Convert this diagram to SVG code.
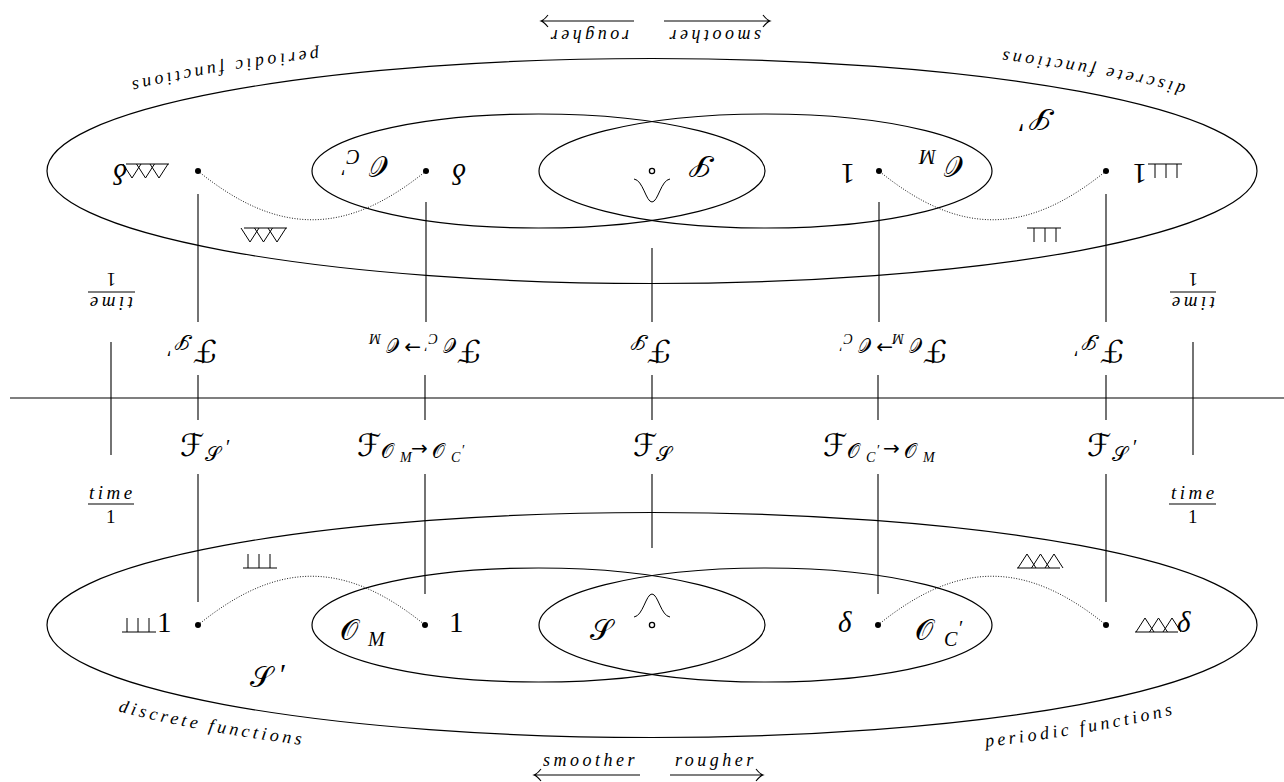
<svg xmlns="http://www.w3.org/2000/svg" xmlns:xlink="http://www.w3.org/1999/xlink" width="1284" height="782" viewBox="0 0 1284 782">
<style>
.ln{stroke:#000;stroke-width:1.1;fill:none}
.el{stroke:#000;stroke-width:1.2;fill:none}
.dt{stroke:#000;stroke-width:0.9;fill:none;stroke-dasharray:1 1.6}
.sym{stroke:#000;stroke-width:1;fill:none}
.dot{fill:#000}
.odot{fill:#fff;stroke:#000;stroke-width:1.3}
text{fill:#000}
.rm{font-family:"Liberation Serif","DejaVu Serif",serif}
.cal{font-family:"DejaVu Sans","DejaVu Serif","Noto Sans",serif}
.it{font-family:"Liberation Serif","DejaVu Serif",serif;font-style:italic}
.big{font-size:29px}
.fb{font-size:31px}
.sub{font-size:20px}
.ss{font-size:14px}
.lbl{font-family:"Liberation Serif","DejaVu Serif",serif;font-style:italic;font-size:18px;letter-spacing:3.5px}
.tm{font-family:"Liberation Serif","DejaVu Serif",serif;font-style:italic;font-size:19px;letter-spacing:3.5px}
</style>
<defs>
<path id="arc" d="M-26,625 A678,140 0 0 0 1330,625"/>
<path id="shah" class="sym" d="M0,14 H34 M5,14 V0 M16,14 V0 M27,14 V0"/>
<path id="tri" class="sym" d="M0,14 H43 M1,14 L10,0 L19,14 M14.5,14 L23.5,0 L32.5,14 M28,14 L37,0 L46,14"/>
</defs>

<g id="connectors">
  <line class="ln" x1="10" y1="398" x2="1294" y2="398"/>
  <line class="ln" x1="111" y1="342" x2="111" y2="455"/>
  <line class="ln" x1="1193" y1="342" x2="1193" y2="455"/>
  <line class="ln" x1="198" y1="375" x2="198" y2="420"/>
  <line class="ln" x1="425" y1="375" x2="425" y2="420"/>
  <line class="ln" x1="652" y1="375" x2="652" y2="420"/>
  <line class="ln" x1="878" y1="375" x2="878" y2="420"/>
  <line class="ln" x1="1106" y1="375" x2="1106" y2="420"/>
</g>

<g id="bottom-half">
  <g id="sets-b">
    <ellipse id="set-Sprime-b" class="el" cx="652" cy="625" rx="605" ry="112.5"/>
    <ellipse id="set-OM-b" class="el" cx="538.5" cy="625" rx="226.5" ry="57"/>
    <ellipse id="set-OC-b" class="el" cx="765.5" cy="625" rx="226.5" ry="57"/>
  </g>
  <g id="connectors-b">
    <line class="ln" x1="198" y1="474" x2="198" y2="602"/>
    <line class="ln" x1="425" y1="474" x2="425" y2="594"/>
    <line class="ln" x1="652" y1="474" x2="652" y2="548"/>
    <line class="ln" x1="878" y1="474" x2="878" y2="594"/>
    <line class="ln" x1="1106" y1="474" x2="1106" y2="602"/>
    <path class="dt" d="M198,625 C278,560 345,560 425,625"/>
    <path class="dt" d="M878,625 C958,560 1026,560 1106,625"/>
    <path class="ln" d="M640,775 H534 M541,769 Q537,774 534,775 Q537,776 541,781"/>
    <path class="ln" d="M670,775 H763 M756,769 Q760,774 763,775 Q760,776 756,781"/>
  </g>
  <g id="time-left-b">
    <text class="tm" x="89" y="499">time</text>
    <line class="ln" x1="88" y1="504" x2="134" y2="504"/>
    <text class="rm" font-size="19" x="106" y="523">1</text>
  </g>
  <g id="time-right-b">
    <text class="tm" x="1171" y="499">time</text>
    <line class="ln" x1="1169" y1="504" x2="1216" y2="504"/>
    <text class="rm" font-size="19" x="1188" y="523">1</text>
  </g>
  <g id="F-Sp-left-b">
    <text><tspan class="cal fb" x="180" y="456">ℱ</tspan><tspan class="cal sub" x="205" y="461">𝒮</tspan><tspan class="rm sub" x="226" y="454">′</tspan></text>
  </g>
  <g id="F-OM-OC-b">
    <text><tspan class="cal fb" x="357" y="456">ℱ</tspan><tspan class="cal sub" x="381" y="458">𝒪</tspan><tspan class="it ss" x="400" y="462">M</tspan><tspan class="cal sub" x="411" y="455">→</tspan><tspan class="cal sub" x="432" y="458">𝒪</tspan><tspan class="it ss" x="451" y="462">C</tspan><tspan class="rm ss" x="462" y="455">′</tspan></text>
  </g>
  <g id="F-S-b">
    <text><tspan class="cal fb" x="633" y="456">ℱ</tspan><tspan class="cal sub" x="656" y="461">𝒮</tspan></text>
  </g>
  <g id="F-OC-OM-b">
    <text><tspan class="cal fb" x="823" y="456">ℱ</tspan><tspan class="cal sub" x="847" y="458">𝒪</tspan><tspan class="it ss" x="866" y="462">C</tspan><tspan class="rm ss" x="877" y="455">′</tspan><tspan class="cal sub" x="883" y="455">→</tspan><tspan class="cal sub" x="904" y="458">𝒪</tspan><tspan class="it ss" x="923" y="462">M</tspan></text>
  </g>
  <g id="F-Sp-right-b">
    <text><tspan class="cal fb" x="1087" y="456">ℱ</tspan><tspan class="cal sub" x="1112" y="461">𝒮</tspan><tspan class="rm sub" x="1133" y="454">′</tspan></text>
  </g>
  <g id="node-comb-b">
    <circle class="dot" cx="198" cy="625" r="3"/>
    <use href="#shah" x="122" y="618"/>
    <text class="rm big" x="157" y="632">1</text>
  </g>
  <g id="node-one-b">
    <circle class="dot" cx="425" cy="625" r="3"/>
    <text class="rm big" x="449" y="632">1</text>
  </g>
  <g id="node-gauss-b">
    <circle class="odot" cx="652" cy="625" r="2.6"/>
    <path class="sym" d="M634,617 C643,616 646,594 652,594 C658,594 661,616 670,617"/>
  </g>
  <g id="node-delta-b">
    <circle class="dot" cx="878" cy="625" r="3"/>
    <text class="it big" x="838" y="632">δ</text>
  </g>
  <g id="node-tricomb-b">
    <circle class="dot" cx="1106" cy="625" r="3"/>
    <use href="#tri" x="1135" y="618"/>
    <text class="it big" x="1177" y="632">δ</text>
  </g>
  <g id="edge-labels-b">
    <use href="#shah" x="243" y="554"/>
    <use href="#tri" x="1017" y="554"/>
  </g>
  <g id="set-labels-b">
    <text><tspan class="cal big" x="340" y="640">𝒪</tspan><tspan class="it sub" x="368" y="646">M</tspan></text>
    <text class="cal big" x="590" y="640">𝒮</text>
    <text><tspan class="cal big" x="915" y="640">𝒪</tspan><tspan class="it sub" x="944" y="646">C</tspan><tspan class="rm sub" x="959" y="635">′</tspan></text>
    <text><tspan class="cal big" x="250" y="687">𝒮</tspan><tspan class="rm big" x="280" y="684">′</tspan></text>
    <text class="lbl"><textPath href="#arc" startOffset="176">discrete functions</textPath></text>
    <text class="lbl"><textPath href="#arc" startOffset="1048">periodic functions</textPath></text>
    <text class="lbl" x="543" y="766">smoother</text>
    <text class="lbl" x="675" y="766">rougher</text>
  </g>
</g>

<g id="top-half" transform="rotate(180 652 398)">
  <g id="sets-t">
    <ellipse id="set-Sprime-t" class="el" cx="652" cy="625" rx="605" ry="112.5"/>
    <ellipse id="set-OM-t" class="el" cx="538.5" cy="625" rx="226.5" ry="57"/>
    <ellipse id="set-OC-t" class="el" cx="765.5" cy="625" rx="226.5" ry="57"/>
  </g>
  <g id="connectors-t">
    <line class="ln" x1="198" y1="474" x2="198" y2="602"/>
    <line class="ln" x1="425" y1="474" x2="425" y2="594"/>
    <line class="ln" x1="652" y1="474" x2="652" y2="548"/>
    <line class="ln" x1="878" y1="474" x2="878" y2="594"/>
    <line class="ln" x1="1106" y1="474" x2="1106" y2="602"/>
    <path class="dt" d="M198,625 C278,560 345,560 425,625"/>
    <path class="dt" d="M878,625 C958,560 1026,560 1106,625"/>
    <path class="ln" d="M640,775 H534 M541,769 Q537,774 534,775 Q537,776 541,781"/>
    <path class="ln" d="M670,775 H763 M756,769 Q760,774 763,775 Q760,776 756,781"/>
  </g>
  <g id="time-left-t">
    <text class="tm" x="89" y="499">time</text>
    <line class="ln" x1="88" y1="504" x2="134" y2="504"/>
    <text class="rm" font-size="19" x="106" y="523">1</text>
  </g>
  <g id="time-right-t">
    <text class="tm" x="1171" y="499">time</text>
    <line class="ln" x1="1169" y1="504" x2="1216" y2="504"/>
    <text class="rm" font-size="19" x="1188" y="523">1</text>
  </g>
  <g id="F-Sp-left-t">
    <text><tspan class="cal fb" x="180" y="456">ℱ</tspan><tspan class="cal sub" x="205" y="461">𝒮</tspan><tspan class="rm sub" x="226" y="454">′</tspan></text>
  </g>
  <g id="F-OM-OC-t">
    <text><tspan class="cal fb" x="357" y="456">ℱ</tspan><tspan class="cal sub" x="381" y="458">𝒪</tspan><tspan class="it ss" x="400" y="462">M</tspan><tspan class="cal sub" x="411" y="455">→</tspan><tspan class="cal sub" x="432" y="458">𝒪</tspan><tspan class="it ss" x="451" y="462">C</tspan><tspan class="rm ss" x="462" y="455">′</tspan></text>
  </g>
  <g id="F-S-t">
    <text><tspan class="cal fb" x="633" y="456">ℱ</tspan><tspan class="cal sub" x="656" y="461">𝒮</tspan></text>
  </g>
  <g id="F-OC-OM-t">
    <text><tspan class="cal fb" x="823" y="456">ℱ</tspan><tspan class="cal sub" x="847" y="458">𝒪</tspan><tspan class="it ss" x="866" y="462">C</tspan><tspan class="rm ss" x="877" y="455">′</tspan><tspan class="cal sub" x="883" y="455">→</tspan><tspan class="cal sub" x="904" y="458">𝒪</tspan><tspan class="it ss" x="923" y="462">M</tspan></text>
  </g>
  <g id="F-Sp-right-t">
    <text><tspan class="cal fb" x="1087" y="456">ℱ</tspan><tspan class="cal sub" x="1112" y="461">𝒮</tspan><tspan class="rm sub" x="1133" y="454">′</tspan></text>
  </g>
  <g id="node-comb-t">
    <circle class="dot" cx="198" cy="625" r="3"/>
    <use href="#shah" x="122" y="618"/>
    <text class="rm big" x="157" y="632">1</text>
  </g>
  <g id="node-one-t">
    <circle class="dot" cx="425" cy="625" r="3"/>
    <text class="rm big" x="449" y="632">1</text>
  </g>
  <g id="node-gauss-t">
    <circle class="odot" cx="652" cy="625" r="2.6"/>
    <path class="sym" d="M634,617 C643,616 646,594 652,594 C658,594 661,616 670,617"/>
  </g>
  <g id="node-delta-t">
    <circle class="dot" cx="878" cy="625" r="3"/>
    <text class="it big" x="838" y="632">δ</text>
  </g>
  <g id="node-tricomb-t">
    <circle class="dot" cx="1106" cy="625" r="3"/>
    <use href="#tri" x="1135" y="618"/>
    <text class="it big" x="1177" y="632">δ</text>
  </g>
  <g id="edge-labels-t">
    <use href="#shah" x="243" y="554"/>
    <use href="#tri" x="1017" y="554"/>
  </g>
  <g id="set-labels-t">
    <text><tspan class="cal big" x="340" y="640">𝒪</tspan><tspan class="it sub" x="368" y="646">M</tspan></text>
    <text class="cal big" x="590" y="640">𝒮</text>
    <text><tspan class="cal big" x="915" y="640">𝒪</tspan><tspan class="it sub" x="944" y="646">C</tspan><tspan class="rm sub" x="959" y="635">′</tspan></text>
    <text><tspan class="cal big" x="250" y="687">𝒮</tspan><tspan class="rm big" x="280" y="684">′</tspan></text>
    <text class="lbl"><textPath href="#arc" startOffset="176">discrete functions</textPath></text>
    <text class="lbl"><textPath href="#arc" startOffset="1048">periodic functions</textPath></text>
    <text class="lbl" x="543" y="766">smoother</text>
    <text class="lbl" x="675" y="766">rougher</text>
  </g>
</g>
</svg>
